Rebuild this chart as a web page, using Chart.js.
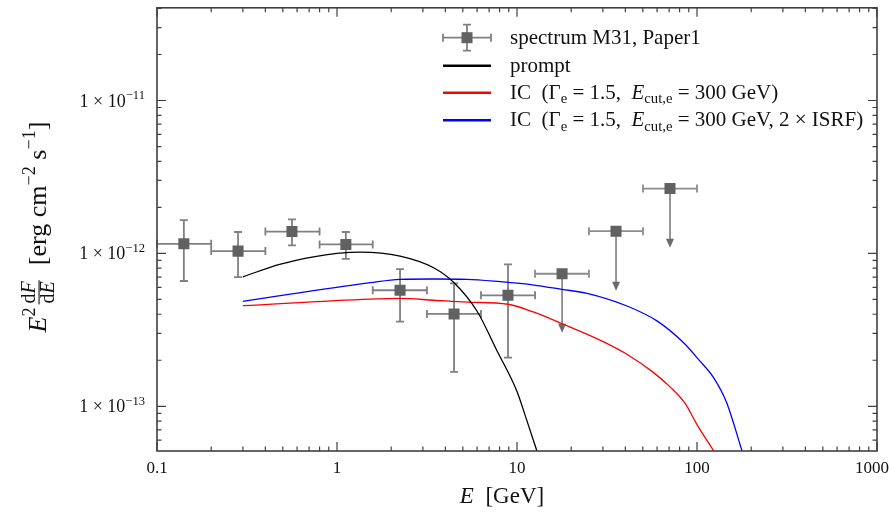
<!DOCTYPE html>
<html>
<head>
<meta charset="utf-8">
<script src="https://cdn.jsdelivr.net/npm/chart.js@4.4.1/dist/chart.umd.min.js"></script>
<style>
    html, body { margin: 0; padding: 0; background: #fff; }
    #chartContainer { width: 889px; height: 514px; }
</style>
</head>
<body>
<div id="chartContainer"><canvas id="sedChart"></canvas></div>
<script>
// M31 spectrum (Paper1): bin centres, bin edges and flux with error range
const binCenters = [0.141, 0.282, 0.562, 1.12, 2.24, 4.47, 8.91];
const binLow = [0.1, 0.2, 0.4, 0.8, 1.58, 3.16, 6.31];
const binHigh = [0.2, 0.4, 0.8, 1.58, 3.16, 6.31, 12.6];
const fluxVals = [1.155e-12, 1.035e-12, 1.39e-12, 1.145e-12, 0.574e-12, 0.402e-12, 0.532e-12];
const fluxErrHigh = [1.65e-12, 1.38e-12, 1.67e-12, 1.38e-12, 0.79e-12, 0.637e-12, 0.848e-12];
const fluxErrLow = [0.66e-12, 0.70e-12, 1.13e-12, 0.92e-12, 0.358e-12, 0.168e-12, 0.208e-12];

// upper limits at high energy
const ulCenters = [17.8, 35.5, 70.8];
const ulLow = [12.6, 25.1, 50.1];
const ulHigh = [25.1, 50.1, 100];
const ulVals = [0.736e-12, 1.398e-12, 2.655e-12];
const ulArrowTo = [0.303e-12, 0.57e-12, 1.09e-12];

// model curves
const promptE = [0.3, 0.48, 0.74, 1.0, 1.35, 2.24, 3.44, 4.47, 5.99, 7.74, 10.0, 11.3, 12.9];
const promptF = [0.703e-12, 0.848e-12, 0.95e-12, 1.0e-12, 1.02e-12, 0.96e-12, 0.806e-12, 0.643e-12, 0.42e-12, 0.231e-12, 0.125e-12, 0.0818e-12, 0.051e-12];
const icE = [0.3, 1.53, 2.24, 3.44, 5.27, 8.9, 12.3, 17.7, 29.5, 40.8, 57.4, 70.8, 86.1, 100, 124];
const icF = [0.455e-12, 0.503e-12, 0.508e-12, 0.494e-12, 0.48e-12, 0.465e-12, 0.414e-12, 0.348e-12, 0.268e-12, 0.219e-12, 0.166e-12, 0.134e-12, 0.104e-12, 0.0759e-12, 0.051e-12];
const ic2E = [0.3, 1.53, 2.24, 3.44, 5.27, 8.07, 12.4, 17.7, 24.5, 40.8, 59.9, 84, 103.6, 123.6, 146, 178];
const ic2F = [0.486e-12, 0.643e-12, 0.677e-12, 0.68e-12, 0.677e-12, 0.653e-12, 0.621e-12, 0.582e-12, 0.548e-12, 0.453e-12, 0.362e-12, 0.261e-12, 0.198e-12, 0.154e-12, 0.106e-12, 0.051e-12];

// ticks
const xTickVals = [0.1, 1, 10, 100, 1000];
const xTickLabels = ['0.1', '1', '10', '100', '1000'];
const yTickVals = [1e-13, 1e-12, 1e-11];
const yTickExps = ['13', '12', '11'];

const serif = '"Liberation Serif", "DejaVu Serif", serif';
const axisColor = '#404040';
const barColor = '#808080';
const markerColor = '#616161';

function toPoints(xs, ys) {
    return xs.map((v, i) => ({ x: v, y: ys[i] }));
}

// little rich-text helper: parts are [text, style], style may hold i (italic), ^ (sup), _ (sub)
function partFont(style, size) {
    const small = style.includes('^') || style.includes('_');
    const fs = small ? size * 0.7 : size;
    return (style.includes('i') ? 'italic ' : '') + fs.toFixed(1) + 'px ' + serif;
}
function partShift(style, size) {
    if (style.includes('_')) return size * 0.2;
    if (style.includes('^')) return -size * 0.42;
    return 0;
}
function measureRich(ctx, parts, size) {
    let w = 0;
    parts.forEach(([t, s]) => { ctx.font = partFont(s, size); w += ctx.measureText(t).width; });
    return w;
}
function drawRich(ctx, parts, x, y, size) {
    let cx = x;
    parts.forEach(([t, s]) => {
        ctx.font = partFont(s, size);
        ctx.fillText(t, cx, y + partShift(s, size));
        cx += ctx.measureText(t).width;
    });
    return cx;
}

function minorValues(min, max) {
    const out = [];
    for (let k = -15; k <= 4; k++) {
        for (let m = 2; m <= 9; m++) {
            const v = m * Math.pow(10, k);
            if (v > min * 1.0001 && v < max * 0.9999) out.push(v);
        }
    }
    return out;
}

const errorBars = {
    id: 'errorBars',
    beforeDatasetsDraw(chart) {
        const { ctx, scales: { x, y } } = chart;
        const left = chart.chartArea.left;
        ctx.save();
        ctx.strokeStyle = barColor;
        ctx.fillStyle = barColor;
        ctx.lineWidth = 1.8;
        const cap = 4;
        binCenters.forEach((e, i) => {
            const px = x.getPixelForValue(e);
            const py = y.getPixelForValue(fluxVals[i]);
            const x0 = Math.max(x.getPixelForValue(binLow[i]), left);
            const x1 = x.getPixelForValue(binHigh[i]);
            const y0 = y.getPixelForValue(fluxErrHigh[i]);
            const y1 = y.getPixelForValue(fluxErrLow[i]);
            ctx.beginPath();
            ctx.moveTo(x0, py); ctx.lineTo(x1, py);
            ctx.moveTo(x0, py - cap); ctx.lineTo(x0, py + cap);
            ctx.moveTo(x1, py - cap); ctx.lineTo(x1, py + cap);
            ctx.moveTo(px, y0); ctx.lineTo(px, y1);
            ctx.moveTo(px - cap, y0); ctx.lineTo(px + cap, y0);
            ctx.moveTo(px - cap, y1); ctx.lineTo(px + cap, y1);
            ctx.stroke();
        });
        ctx.strokeStyle = '#8c8c8c';
        ulCenters.forEach((e, i) => {
            const px = x.getPixelForValue(e);
            const py = y.getPixelForValue(ulVals[i]);
            const x0 = x.getPixelForValue(ulLow[i]);
            const x1 = x.getPixelForValue(ulHigh[i]);
            const tip = y.getPixelForValue(ulArrowTo[i]);
            ctx.beginPath();
            ctx.moveTo(x0, py); ctx.lineTo(x1, py);
            ctx.moveTo(x0, py - cap); ctx.lineTo(x0, py + cap);
            ctx.moveTo(x1, py - cap); ctx.lineTo(x1, py + cap);
            ctx.moveTo(px, py); ctx.lineTo(px, tip - 6);
            ctx.stroke();
            ctx.fillStyle = '#6a6a6a';
            ctx.beginPath();
            ctx.moveTo(px, tip);
            ctx.lineTo(px - 4, tip - 9);
            ctx.lineTo(px + 4, tip - 9);
            ctx.closePath();
            ctx.fill();
        });
        ctx.restore();
    }
};

const decorations = {
    id: 'decorations',
    afterDraw(chart) {
        const { ctx, chartArea: a, scales: { x, y } } = chart;
        ctx.save();
        // frame
        ctx.strokeStyle = axisColor;
        ctx.lineWidth = 1.6;
        ctx.strokeRect(a.left, a.top, a.right - a.left, a.bottom - a.top);
        // ticks, inward on all four sides
        ctx.lineWidth = 1.2;
        ctx.beginPath();
        const xMinor = minorValues(x.min, x.max);
        const yMinor = minorValues(y.min, y.max);
        xTickVals.forEach(v => {
            const px = x.getPixelForValue(v);
            ctx.moveTo(px, a.bottom); ctx.lineTo(px, a.bottom - 9);
            ctx.moveTo(px, a.top); ctx.lineTo(px, a.top + 9);
        });
        xMinor.forEach(v => {
            const px = x.getPixelForValue(v);
            ctx.moveTo(px, a.bottom); ctx.lineTo(px, a.bottom - 4.5);
            ctx.moveTo(px, a.top); ctx.lineTo(px, a.top + 4.5);
        });
        yTickVals.forEach(v => {
            const py = y.getPixelForValue(v);
            ctx.moveTo(a.left, py); ctx.lineTo(a.left + 9, py);
            ctx.moveTo(a.right, py); ctx.lineTo(a.right - 9, py);
        });
        yMinor.forEach(v => {
            const py = y.getPixelForValue(v);
            ctx.moveTo(a.left, py); ctx.lineTo(a.left + 4.5, py);
            ctx.moveTo(a.right, py); ctx.lineTo(a.right - 4.5, py);
        });
        ctx.stroke();

        // tick labels
        ctx.fillStyle = '#111';
        ctx.textBaseline = 'alphabetic';
        ctx.textAlign = 'left';
        ctx.font = '17px ' + serif;
        xTickVals.forEach((v, i) => {
            const px = x.getPixelForValue(v);
            const w = ctx.measureText(xTickLabels[i]).width;
            const lx = Math.min(px - w / 2, chart.width - w);
            ctx.fillText(xTickLabels[i], lx, a.bottom + 22);
        });
        yTickVals.forEach((v, i) => {
            const py = y.getPixelForValue(v);
            const parts = [['1 × 10', ''], ['−' + yTickExps[i], '^']];
            const w = measureRich(ctx, parts, 18);
            drawRich(ctx, parts, a.left - 12 - w, py + 6, 18);
        });

        // axis titles
        const xTitle = [['E', 'i'], ['  [GeV]', '']];
        const xw = measureRich(ctx, xTitle, 23);
        drawRich(ctx, xTitle, 502 - xw / 2, 503, 23);

        const tsize = 26;
        ctx.save();
        ctx.translate(46, 227);
        ctx.rotate(-Math.PI / 2);
        const head = [['E', 'i'], ['2', '^']];
        const tail = [['  [erg cm', ''], ['−2', '^'], [' s', ''], ['−1', '^'], [']', '']];
        const fs = 20;
        const num = [['d', ''], ['F', 'i']];
        const den = [['d', ''], ['E', 'i']];
        const numW = measureRich(ctx, num, fs);
        const denW = measureRich(ctx, den, fs);
        const fracW = Math.max(numW, denW) + 4;
        const total = measureRich(ctx, head, tsize) + fracW + measureRich(ctx, tail, tsize) + 3;
        let cx = -total / 2;
        cx = drawRich(ctx, head, cx, 0, tsize) + 2;
        drawRich(ctx, num, cx + (fracW - numW) / 2, -11, fs);
        drawRich(ctx, den, cx + (fracW - denW) / 2, 8, fs);
        ctx.fillRect(cx + 1, -7.5, fracW - 2, 1.1);
        cx += fracW + 1;
        drawRich(ctx, tail, cx, 0, tsize);
        ctx.restore();

        // legend
        const lsize = 21;
        const lx0 = 443, lx1 = 491, tx = 510;
        const rows = [37.7, 65.7, 92.7, 120.3];
        // errorbar symbol
        const cxl = (lx0 + lx1) / 2, r0 = rows[0];
        ctx.strokeStyle = barColor;
        ctx.lineWidth = 1.8;
        ctx.beginPath();
        ctx.moveTo(lx0, r0); ctx.lineTo(lx1, r0);
        ctx.moveTo(lx0, r0 - 4); ctx.lineTo(lx0, r0 + 4);
        ctx.moveTo(lx1, r0 - 4); ctx.lineTo(lx1, r0 + 4);
        ctx.moveTo(cxl, r0 - 13); ctx.lineTo(cxl, r0 + 13);
        ctx.moveTo(cxl - 4, r0 - 13); ctx.lineTo(cxl + 4, r0 - 13);
        ctx.moveTo(cxl - 4, r0 + 13); ctx.lineTo(cxl + 4, r0 + 13);
        ctx.stroke();
        ctx.fillStyle = markerColor;
        ctx.fillRect(cxl - 5.5, r0 - 5.5, 11, 11);
        const lineSets = chart.data.datasets.slice(1);
        lineSets.forEach((ds, i) => {
            const ry = rows[i + 1];
            ctx.strokeStyle = ds.borderColor;
            ctx.lineWidth = 2.4;
            ctx.beginPath();
            ctx.moveTo(lx0, ry); ctx.lineTo(lx1, ry);
            ctx.stroke();
        });
        const texts = [
            [['spectrum M31, Paper1', '']],
            [['prompt', '']],
            [['IC  (Γ', ''], ['e', '_'], [' = 1.5,  ', ''], ['E', 'i'], ['cut,e', '_'], [' = 300 GeV)', '']],
            [['IC  (Γ', ''], ['e', '_'], [' = 1.5,  ', ''], ['E', 'i'], ['cut,e', '_'], [' = 300 GeV, 2 × ISRF)', '']]
        ];
        ctx.fillStyle = '#111';
        texts.forEach((parts, i) => drawRich(ctx, parts, tx, rows[i] + 6, lsize));
        ctx.restore();
    }
};

const ctx = document.getElementById('sedChart').getContext('2d');
const sedChart = new Chart(ctx, {
    type: 'scatter',
    data: {
        datasets: [
            {
                label: 'spectrum M31, Paper1',
                data: toPoints(binCenters.concat(ulCenters), fluxVals.concat(ulVals)),
                pointStyle: 'rect',
                pointRadius: 7.8,
                backgroundColor: markerColor,
                borderWidth: 0
            },
            {
                label: 'prompt',
                data: toPoints(promptE, promptF),
                showLine: true,
                borderColor: '#000000',
                borderWidth: 1.3,
                pointRadius: 0,
                cubicInterpolationMode: 'monotone'
            },
            {
                label: 'IC (Γe = 1.5, Ecut,e = 300 GeV)',
                data: toPoints(icE, icF),
                showLine: true,
                borderColor: '#ff0000',
                borderWidth: 1.3,
                pointRadius: 0,
                cubicInterpolationMode: 'monotone'
            },
            {
                label: 'IC (Γe = 1.5, Ecut,e = 300 GeV, 2 × ISRF)',
                data: toPoints(ic2E, ic2F),
                showLine: true,
                borderColor: '#0000ff',
                borderWidth: 1.3,
                pointRadius: 0,
                cubicInterpolationMode: 'monotone'
            }
        ]
    },
    options: {
        responsive: true,
        maintainAspectRatio: false,
        animation: false,
        layout: { padding: { left: 157, right: 12, top: 6, bottom: 63 } },
        plugins: {
            legend: { display: false },
            tooltip: { enabled: false }
        },
        scales: {
            x: { type: 'logarithmic', min: 0.1, max: 1000, display: false },
            y: { type: 'logarithmic', min: 5.1e-14, max: 4.04e-11, display: false }
        }
    },
    plugins: [errorBars, decorations]
});
</script>
</body>
</html>
